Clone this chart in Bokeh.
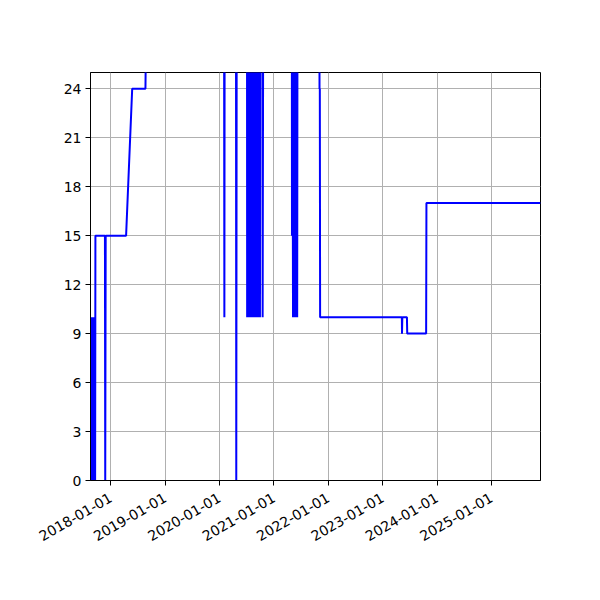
import math
import pandas as pd
from bokeh.plotting import figure
from bokeh.models import Range1d, FixedTicker, DatetimeTickFormatter
from bokeh.embed import file_html
from bokeh.resources import INLINE

# sampled readings (values above 25 run off the top of the chart)
dates = [
    "2017-08-18", "2017-08-19", "2017-08-21", "2017-08-23", "2017-08-25",
    "2017-08-27", "2017-08-29", "2017-08-31", "2017-09-02", "2017-09-04",
    "2017-09-06", "2017-09-08", "2017-09-10", "2017-09-12", "2017-09-14",
    "2017-09-16", "2017-09-18", "2017-09-20",
    "2017-11-23", "2017-11-25", "2017-11-28",
    "2018-04-14", "2018-05-25", "2018-08-22", "2018-08-29",
    "2020-02-01", "2020-02-03", "2020-02-05",
    "2020-04-21", "2020-04-23", "2020-04-26",
    "2020-07-04", "2020-07-05", "2020-07-07", "2020-07-09", "2020-07-11",
    "2020-07-13", "2020-07-15", "2020-07-17", "2020-07-19", "2020-07-21",
    "2020-07-23", "2020-07-25", "2020-07-27", "2020-07-29", "2020-07-31",
    "2020-08-02", "2020-08-04", "2020-08-06", "2020-08-08", "2020-08-10",
    "2020-08-12", "2020-08-14", "2020-08-16", "2020-08-18", "2020-08-20",
    "2020-08-22", "2020-08-24", "2020-08-26", "2020-08-28", "2020-08-30",
    "2020-09-04", "2020-09-05", "2020-09-07", "2020-09-09", "2020-09-11",
    "2020-09-13", "2020-09-15", "2020-09-17", "2020-09-19", "2020-09-21",
    "2020-09-23", "2020-09-25", "2020-09-27", "2020-09-29", "2020-10-01",
    "2020-10-02",
    "2020-10-16", "2020-10-17", "2020-10-21",
    "2021-05-01", "2021-05-02", "2021-05-05", "2021-05-09", "2021-05-11",
    "2021-05-13", "2021-05-15", "2021-05-17", "2021-05-19", "2021-05-21",
    "2021-05-23", "2021-05-25", "2021-05-27", "2021-05-29", "2021-05-31",
    "2021-06-02", "2021-06-04", "2021-06-06", "2021-06-08",
    "2021-11-02", "2021-11-03", "2021-11-05", "2021-11-07",
    "2023-05-10", "2023-05-11", "2023-05-13",
    "2023-06-13", "2023-06-15", "2023-10-20", "2023-10-22", "2025-11-26",
]
values = [
    5, 10, 0, 10, 0,
    10, 0, 10, 0, 10,
    0, 10, 0, 10, 0,
    10, 0, 15,
    15, 0, 15,
    15, 24, 24, 30,
    30, 10, 30,
    30, 0, 30,
    30, 10, 30, 10, 30,
    10, 30, 10, 30, 10,
    30, 10, 30, 10, 30,
    10, 30, 10, 30, 10,
    30, 10, 30, 10, 30,
    10, 30, 10, 30, 30,
    30, 10, 30, 10, 30,
    10, 30, 10, 30, 10,
    30, 10, 30, 10, 30,
    30,
    30, 10, 30,
    30, 15, 30, 10, 30,
    10, 30, 10, 30, 10,
    30, 10, 30, 10, 30,
    10, 30, 10, 30,
    30, 24, 24, 10,
    10, 9, 10,
    10, 9, 9, 17, 17,
]

x_ticks = ["2018-01-01", "2019-01-01", "2020-01-01", "2021-01-01",
           "2022-01-01", "2023-01-01", "2024-01-01", "2025-01-01"]
y_ticks = [0, 3, 6, 9, 12, 15, 18, 21, 24]

x = pd.to_datetime(dates)

p = figure(
    width=592, height=592,
    frame_width=450, frame_height=408,
    min_border_left=90, min_border_right=52,
    min_border_top=72, min_border_bottom=112,
    x_axis_type="datetime",
    x_range=Range1d(x[0], x[-1]),
    y_range=Range1d(0, 25),
    output_backend="svg",
    toolbar_location=None,
)

p.line(x, values, line_color="blue", line_width=2)

tick_ms = [pd.Timestamp(t).value / 1e6 for t in x_ticks]
p.xaxis.ticker = FixedTicker(ticks=tick_ms, minor_ticks=[])
p.xaxis.formatter = DatetimeTickFormatter(
    days="%Y-%m-%d", months="%Y-%m-%d", years="%Y-%m-%d")
p.xaxis.major_label_orientation = math.pi / 6
p.yaxis.ticker = FixedTicker(ticks=y_ticks, minor_ticks=[])

for ax in (p.xaxis, p.yaxis):
    ax.axis_line_color = "black"
    ax.axis_line_width = 1
    ax.major_tick_line_color = "black"
    ax.major_tick_in = 0
    ax.major_tick_out = 5
    ax.minor_tick_line_color = None
    ax.major_label_text_font = "DejaVu Sans"
    ax.major_label_text_font_size = "14px"
    ax.major_label_text_color = "black"
    ax.major_label_standoff = 4

p.xaxis.major_label_standoff = 11

p.grid.grid_line_color = "#b0b0b0"
p.grid.grid_line_width = 1
p.outline_line_color = "black"
p.outline_line_alpha = 1
p.outline_line_width = 1
p.background_fill_color = "white"
p.border_fill_color = "white"

open("out.html", "w").write(file_html(p, INLINE))
